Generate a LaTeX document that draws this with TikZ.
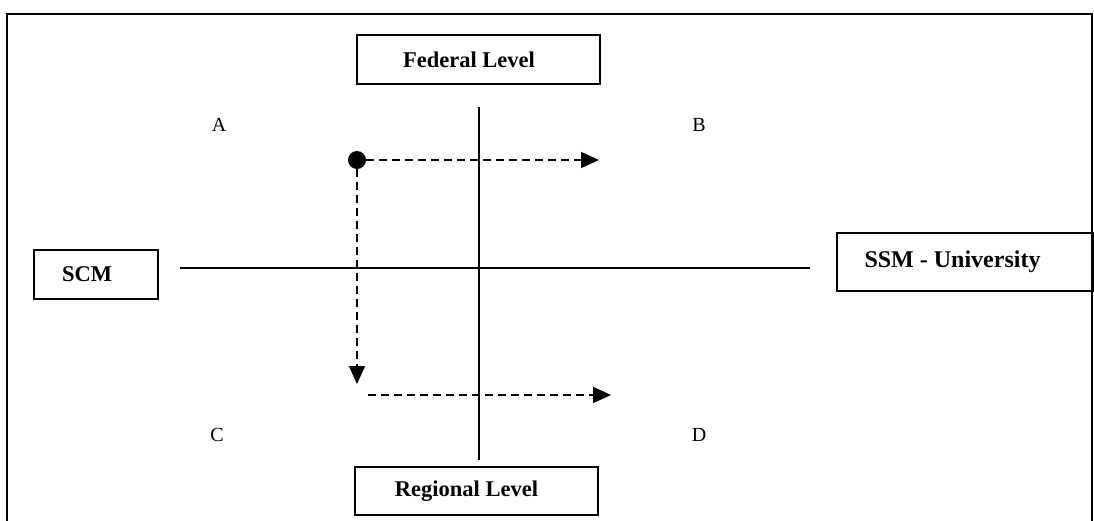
\documentclass[tikz,border=0pt]{standalone}
\usepackage{fontspec}
\setmainfont{Liberation Serif}
\usetikzlibrary{arrows.meta,positioning}

\begin{document}
\begin{tikzpicture}[x=1pt, y=-1pt,
  lvl/.style={rectangle, draw, line width=1.6pt, inner sep=0pt,
              font=\fontsize{22.5}{27}\selectfont\bfseries},
  quad/.style={font=\fontsize{20}{24}\selectfont},
  axis/.style={line width=1.6pt},
  dot/.style={circle, fill, inner sep=0pt, minimum size=18pt},
  flow/.style={-{Triangle[length=18pt,width=16pt]}, line width=1.3pt,
               dash pattern=on 8pt off 5pt}
]
  \useasboundingbox (0,0) rectangle (1094,520);
  % outer frame
  \draw[line width=1.8pt] (7,530) -- (7,14) -- (1092,14) -- (1092,530);

  \node[lvl, minimum width=243pt, minimum height=49pt] (fed) at (478.5,59.5)
    {\hspace*{-19pt}Federal Level};
  \node[lvl, minimum width=243pt, minimum height=48pt] (reg) at (476.5,491)
    {\hspace*{-20pt}Regional Level};
  \node[lvl, minimum width=124pt, minimum height=49pt] (scm) at (96,274.5)
    {\hspace*{-18pt}SCM};
  \node[lvl, minimum width=256pt, minimum height=58pt,
        font=\fontsize{24}{28}\selectfont\bfseries] (ssm) at (965,262)
    {\hspace*{-25pt}SSM - University};

  % axes
  \coordinate (vtop) at (479,107);
  \coordinate (vbot) at (479,460);
  \coordinate (hleft) at (180,268);
  \coordinate (hright) at (810,268);
  \draw[axis] (vtop) -- (vbot);
  \draw[axis] (hleft) -- (hright);

  % quadrants
  \node[quad] (qa) at (219,125) {A};
  \node[quad] (qb) at (699,125) {B};
  \node[quad] (qc) at (217,435) {C};
  \node[quad] (qd) at (699,435) {D};

  % moves
  \node[dot] (start) at (357,160) {};
  \coordinate (tipb) at (599,160);
  \coordinate (tipc) at (357,384);
  \coordinate (lowl) at (368,395);
  \coordinate (tipd) at (611,395);
  \foreach \a/\b in {start/tipb,start/tipc,lowl/tipd}
    \draw[flow] (\a) -- (\b);
\end{tikzpicture}
\end{document}
